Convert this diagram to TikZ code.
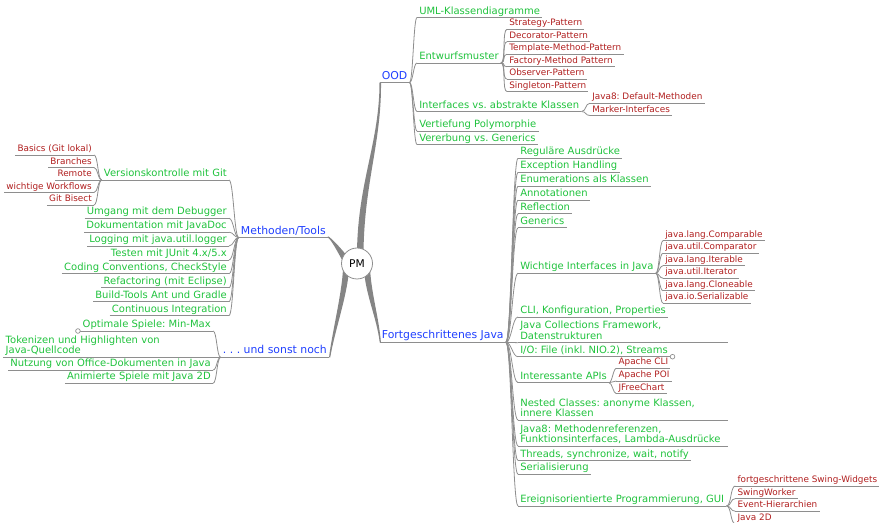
\documentclass[tikz,border=0pt]{standalone}
\usepackage{fontspec}
\setmainfont{DejaVu Sans}
\usepackage{tikz}
\usepackage{xcolor}
\usetikzlibrary{calc,backgrounds}
\definecolor{mapblue}{HTML}{1F3FFF}
\definecolor{mapgreen}{HTML}{1FC23C}
\definecolor{mapred}{HTML}{B01E1E}
\definecolor{linegray}{HTML}{8E8E8E}
\definecolor{limbgray}{HTML}{858585}
\tikzset{
  uline/.style={draw=linegray,line width=0.7pt},
  mapnode/.style={inner xsep=1.5pt,inner ysep=0.6pt,text depth=1.7pt,
                  append after command={(\tikzlastnode.south west)
                    edge[uline] (\tikzlastnode.south east)}},
  root/.style={circle,draw=linegray,fill=white,line width=0.6pt,
               minimum size=23.25pt,inner sep=0pt,
               font=\fontsize{8}{9}\selectfont},
  mainbranch/.style={mapnode,text=mapblue,font=\fontsize{8.15}{9}\selectfont},
  topic/.style={mapnode,text=mapgreen,font=\fontsize{7.5}{8}\selectfont},
  detail/.style={mapnode,text=mapred,font=\fontsize{6.65}{7.5}\selectfont},
  longtopic/.style={topic,text width=153.75pt,align=left,text depth=9.7pt},
  twig/.style={draw=linegray,line width=0.6pt},
  limb/.style={fill=limbgray},
  folded/.style={circle,draw=linegray,fill=white,line width=0.5pt,
                 minimum size=3.5pt,inner sep=0pt}
}

\begin{document}
\frenchspacing
\begin{tikzpicture}[x=0.75pt,y=-0.75pt]
  \useasboundingbox (0,0) rectangle (884,523);
  \node[root] (pm) at (357,263.5) {PM};

  % main branches
  \node[mainbranch,anchor=south west] (ood)  at (379.5,82.5)  {OOD};
  \node[mainbranch,anchor=south west] (fort) at (379.7,342.3) {Fortgeschrittenes Java};
  \node[mainbranch,anchor=south west] (meth) at (238.7,237.5) {Methoden/Tools};
  \node[mainbranch,anchor=south west] (misc) at (220.7,357.3) {. . . und sonst noch};

  % OOD
  \node[topic,anchor=south west] (uml)  at (417,17.5)  {UML-Klassendiagramme};
  \node[topic,anchor=south west] (entw) at (417,63)    {Entwurfsmuster};
  \node[topic,anchor=south west] (ivsa) at (417,111.5) {Interfaces vs. abstrakte Klassen};
  \node[topic,anchor=south west] (poly) at (417,131)   {Vertiefung Polymorphie};
  \node[topic,anchor=south west] (vgen) at (417,144.5) {Vererbung vs. Generics};

  \node[detail,anchor=south west] (strat) at (507,29.3) {Strategy-Pattern};
  \node[detail,anchor=south west] (deco)  at (507,41.8) {Decorator-Pattern};
  \node[detail,anchor=south west] (templ) at (507,54.2) {Template-Method-Pattern};
  \node[detail,anchor=south west] (fact)  at (507,66.7) {Factory-Method Pattern};
  \node[detail,anchor=south west] (obs)   at (507,79.1) {Observer-Pattern};
  \node[detail,anchor=south west] (singl) at (507,91.6) {Singleton-Pattern};

  \node[detail,anchor=south west] (defm) at (590,103.3) {Java8: Default-Methoden};
  \node[detail,anchor=south west] (mark) at (590,115.5) {Marker-Interfaces};

  % Fortgeschrittenes Java
  \node[topic,anchor=south west] (regex)   at (518,158.3) {Reguläre Ausdrücke};
  \node[topic,anchor=south west] (exc)     at (518,172.2) {Exception Handling};
  \node[topic,anchor=south west] (enums)   at (518,186.1) {Enumerations als Klassen};
  \node[topic,anchor=south west] (annot)   at (518,200)   {Annotationen};
  \node[topic,anchor=south west] (refl)    at (518,213.9) {Reflection};
  \node[topic,anchor=south west] (gens)    at (518,227.8) {Generics};
  \node[topic,anchor=south west] (wichtig) at (518,273.3) {Wichtige Interfaces in Java};
  \node[topic,anchor=south west] (cli)     at (518,317)   {CLI, Konfiguration, Properties};
  \node[longtopic,anchor=south west] (coll) at (518,342.7)
    {Java Collections Framework,\\Datenstrukturen};
  \node[topic,anchor=south west] (io)      at (518,356.7) {I/O: File (inkl. NIO.2), Streams};
  \node[topic,anchor=south west] (apis)    at (518,382.7) {Interessante APIs};
  \node[longtopic,anchor=south west] (nested) at (518,420)
    {Nested Classes: anonyme Klassen,\\innere Klassen};
  \node[longtopic,anchor=south west] (lambda) at (518,446)
    {Java8: Methodenreferenzen,\\Funktionsinterfaces, Lambda-Ausdrücke};
  \node[topic,anchor=south west] (threads) at (518,460.5) {Threads, synchronize, wait, notify};
  \node[topic,anchor=south west] (seri)    at (518,474.3) {Serialisierung};
  \node[topic,anchor=south west] (gui)     at (518,506)   {Ereignisorientierte Programmierung, GUI};
  \node[folded] (iofold) at ($(io.south east)+(2.5,0)$) {};

  \node[detail,anchor=south west] (cmpb)  at (663,240.7) {java.lang.Comparable};
  \node[detail,anchor=south west] (cmpt)  at (663,253.2) {java.util.Comparator};
  \node[detail,anchor=south west] (iterb) at (663,265.7) {java.lang.Iterable};
  \node[detail,anchor=south west] (iter)  at (663,278.2) {java.util.Iterator};
  \node[detail,anchor=south west] (clone) at (663,290.7) {java.lang.Cloneable};
  \node[detail,anchor=south west] (serz)  at (663,303.2) {java.io.Serializable};

  \node[detail,anchor=south west] (acli)  at (616.3,368.3) {Apache CLI};
  \node[detail,anchor=south west] (apoi)  at (616.3,381)   {Apache POI};
  \node[detail,anchor=south west] (jfree) at (616.3,393.7) {JFreeChart};

  \node[detail,anchor=south west] (swid)  at (735.3,486)   {fortgeschrittene Swing-Widgets};
  \node[detail,anchor=south west] (swork) at (735.3,498.6) {SwingWorker};
  \node[detail,anchor=south west] (evh)   at (735.3,511.2) {Event-Hierarchien};
  \node[detail,anchor=south west] (jtwod) at (735.3,523.8) {Java 2D};

  % Methoden/Tools
  \node[topic,anchor=south east] (git)   at (229,180)   {Versionskontrolle mit Git};
  \node[topic,anchor=south east] (debug) at (229,218.3) {Umgang mit dem Debugger};
  \node[topic,anchor=south east] (jdoc)  at (229,232.2) {Dokumentation mit JavaDoc};
  \node[topic,anchor=south east] (logg)  at (229,246)   {Logging mit java.util.logger};
  \node[topic,anchor=south east] (junit) at (229,260)   {Testen mit JUnit 4.x/5.x};
  \node[topic,anchor=south east] (style) at (229,273.9) {Coding Conventions, CheckStyle};
  \node[topic,anchor=south east] (refac) at (229,287.8) {Refactoring (mit Eclipse)};
  \node[topic,anchor=south east] (build) at (229,301.7) {Build-Tools Ant und Gradle};
  \node[topic,anchor=south east] (ci)    at (229,315.6) {Continuous Integration};

  \node[detail,anchor=south east] (basics) at (94,155)   {Basics (Git lokal)};
  \node[detail,anchor=south east] (branch) at (94,167.5) {Branches};
  \node[detail,anchor=south east] (remote) at (94,180)   {Remote};
  \node[detail,anchor=south east] (wflow)  at (94,192.5) {wichtige Workflows};
  \node[detail,anchor=south east] (bisect) at (94,205)   {Git Bisect};

  % und sonst noch
  \node[topic,anchor=south east] (minmax) at (213,331) {Optimale Spiele: Min-Max};
  \node[longtopic,anchor=south east] (token) at (213,357.3)
    {Tokenizen und Highlighten von\\Java-Quellcode};
  \node[topic,anchor=south east] (office) at (213,370)   {Nutzung von Office-Dokumenten in Java};
  \node[topic,anchor=south east] (anim)   at (213,383.3) {Animierte Spiele mit Java 2D};
  \node[folded] (mmfold) at ($(minmax.south west)+(-2.5,0)$) {};

  \begin{scope}[on background layer]
    % thick limbs from the root
    \fill[limb] ($(pm)+(0,-12)$) .. controls +(1,-70) and +(0,60) .. (ood.south west)
      -- ($(ood.south west)+(1.5,0)$) .. controls +(0.5,60) and +(1,-70)
      .. ($(pm)+(6.5,-12)$) -- cycle;
    \fill[limb] (meth.south east) .. controls +(4,3) and +(-3,-5) .. ($(pm)+(-14,-2)$)
      -- ($(pm)+(-9,-6)$) .. controls +(-4,-6) and +(3,1)
      .. ($(meth.south east)+(0,-1.2)$) -- cycle;
    \fill[limb] (misc.south east) .. controls +(3,-25) and +(-1,25) .. ($(pm)+(-14,5)$)
      -- ($(pm)+(-8,5)$) .. controls +(-1,25) and +(4,-25)
      .. ($(misc.south east)+(1.2,0)$) -- cycle;
    \fill[limb] ($(pm)+(7,5)$) .. controls +(1,25) and +(-3,-25) .. (fort.south west)
      -- ($(fort.south west)+(1.2,0)$) .. controls +(-2,-25) and +(1,25)
      .. ($(pm)+(13,4)$) -- cycle;

    % thin connectors
    \foreach \k in {uml,entw,ivsa,poly,vgen}
      \draw[twig] (ood.south east) .. controls +(3.5,0) and +(-3.5,0) .. (\k.south west);
    \foreach \k in {strat,deco,templ,fact,obs,singl}
      \draw[twig] (entw.south east) .. controls +(5,0) and +(-5,0) .. (\k.south west);
    \foreach \k in {defm,mark}
      \draw[twig] (ivsa.south east) .. controls +(5,0) and +(-5,0) .. (\k.south west);
    \foreach \k in {regex,exc,enums,annot,refl,gens,wichtig,cli,coll,io,apis,nested,lambda,threads,seri,gui}
      \draw[twig] (fort.south east) .. controls +(5.5,0) and +(-5.5,0) .. (\k.south west);
    \foreach \k in {cmpb,cmpt,iterb,iter,clone,serz}
      \draw[twig] (wichtig.south east) .. controls +(3.5,0) and +(-3.5,0) .. (\k.south west);
    \foreach \k in {acli,apoi,jfree}
      \draw[twig] (apis.south east) .. controls +(3,0) and +(-3,0) .. (\k.south west);
    \foreach \k in {swid,swork,evh,jtwod}
      \draw[twig] (gui.south east) .. controls +(5,0) and +(-5,0) .. (\k.south west);
    \foreach \k in {git,debug,jdoc,logg,junit,style,refac,build,ci}
      \draw[twig] (meth.south west) .. controls +(-4.5,0) and +(4.5,0) .. (\k.south east);
    \foreach \k in {basics,branch,remote,wflow,bisect}
      \draw[twig] (git.south west) .. controls +(-4,0) and +(4,0) .. (\k.south east);
    \foreach \k in {minmax,token,office,anim}
      \draw[twig] (misc.south west) .. controls +(-4,0) and +(4,0) .. (\k.south east);
  \end{scope}
\end{tikzpicture}
\end{document}
